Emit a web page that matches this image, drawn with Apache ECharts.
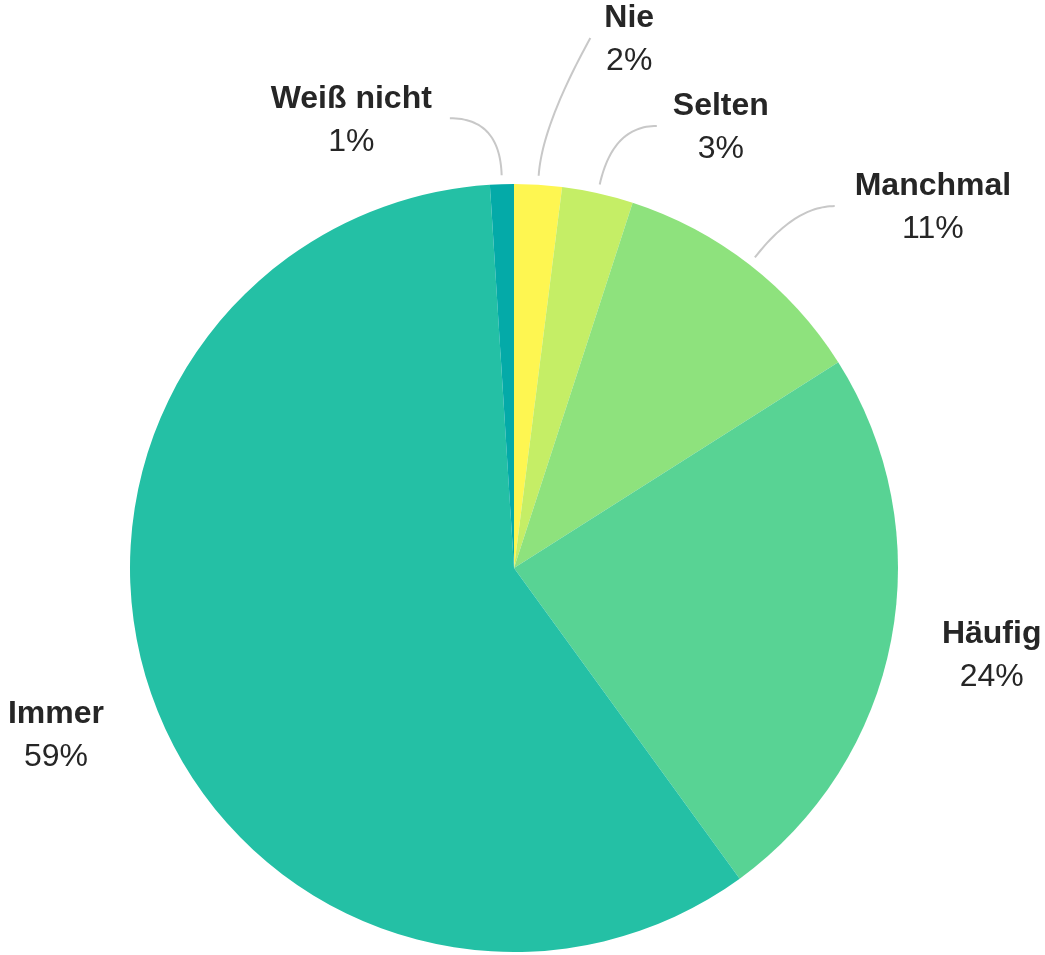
<!DOCTYPE html>
<html>
<head>
<meta charset="utf-8">
<style>
  html, body { margin: 0; padding: 0; background: #ffffff; }
  #chart { width: 1045px; height: 955px; }
</style>
<script src="https://cdn.jsdelivr.net/npm/echarts@6/dist/echarts.min.js"></script>
</head>
<body>
<div id="chart"></div>
<script>
// Antwortkategorien und Anteile in Prozent (im Uhrzeigersinn ab 12 Uhr)
const categories = ['Nie', 'Selten', 'Manchmal', 'Häufig', 'Immer', 'Weiß nicht'];
const shares = [2, 3, 11, 24, 59, 1];

// Segmentfarben
const sliceColors = ['#fef651', '#c5ee66', '#8ee27d', '#58d394', '#24c0a5', '#04aaa8'];

// Führungslinien je Kategorie: Länge, zweites Segment, Abstand zum Text,
// sichtbar, und wie weit der Kontrollpunkt der Kurve auf dem Radius liegt
const labelPlacement = {
  'Nie':        { len: 138, len2: 43,  dist: 14, line: true,  bend: 0.36 },
  'Selten':     { len: 60,  len2: 44,  dist: 16, line: true,  bend: 1 },
  'Manchmal':   { len: 65,  len2: 40,  dist: 20, line: true,  bend: 1 },
  'Häufig':     { len: 64,  len2: -37, dist: 16, line: false, bend: 1 },
  'Immer':      { len: 97,  len2: -67, dist: 16, line: false, bend: 1 },
  'Weiß nicht': { len: 57,  len2: 50,  dist: 18, line: true,  bend: 1 }
};

const FONT = '"Liberation Sans", Arial, sans-serif';
const CENTER = [514, 568];

const pieData = categories.map((name, i) => ({
  name: name,
  value: shares[i],
  itemStyle: { color: sliceColors[i] }
}));

const labelData = categories.map((name, i) => {
  const p = labelPlacement[name];
  return {
    name: name,
    value: shares[i],
    label: { distanceToLabelLine: p.dist },
    labelLine: { show: p.line, length: p.len, length2: p.len2 }
  };
});

// Führungslinie als quadratische Kurve: Start am Rand, Kontrollpunkt auf dem
// Radius, Ende neben der Beschriftung
function curvedGuide(params) {
  const pts = params.labelLinePoints;
  const name = categories[params.dataIndex];
  const cfg = labelPlacement[name];
  if (!pts || pts.length < 3 || !cfg || !cfg.line) return {};
  const p0 = pts[0], p1 = pts[1], p2 = pts[2];
  const c = [p0[0] + (p1[0] - p0[0]) * cfg.bend, p0[1] + (p1[1] - p0[1]) * cfg.bend];
  const steps = 32;
  const curve = [];
  for (let k = 0; k <= steps; k++) {
    const t = k / steps, u = 1 - t;
    curve.push([
      u * u * p0[0] + 2 * u * t * c[0] + t * t * p2[0],
      u * u * p0[1] + 2 * u * t * c[1] + t * t * p2[1]
    ]);
  }
  return { labelLinePoints: curve };
}

const chart = echarts.init(document.getElementById('chart'), null, { renderer: 'canvas' });

chart.setOption({
  animation: false,
  backgroundColor: '#ffffff',
  series: [
    {
      // sichtbare Tortensegmente
      type: 'pie',
      center: CENTER,
      radius: [0, 384],
      startAngle: 90,
      clockwise: true,
      silent: true,
      label: { show: false },
      labelLine: { show: false },
      emphasis: { disabled: true },
      itemStyle: { borderWidth: 0 },
      data: pieData
    },
    {
      // Beschriftungen mit Führungslinien, etwas außerhalb des Randes
      type: 'pie',
      center: CENTER,
      radius: [0, 393],
      startAngle: 90,
      clockwise: true,
      silent: true,
      avoidLabelOverlap: false,
      emphasis: { disabled: true },
      itemStyle: { color: 'rgba(0,0,0,0)', borderWidth: 0 },
      label: {
        show: true,
        position: 'outside',
        color: '#262626',
        padding: [4, 0, 0, 0],
        formatter: '{n|{b}}\n{p|{c}%}',
        rich: {
          n: {
            fontFamily: FONT, fontSize: 32, fontWeight: 'bold',
            color: '#262626', lineHeight: 43, align: 'center'
          },
          p: {
            fontFamily: FONT, fontSize: 32, fontWeight: 'normal',
            color: '#262626', lineHeight: 43, align: 'center'
          }
        }
      },
      labelLine: {
        show: true,
        smooth: false,
        lineStyle: { color: '#c8c8c8', width: 2 }
      },
      labelLayout: curvedGuide,
      data: labelData
    }
  ]
});
</script>
</body>
</html>
